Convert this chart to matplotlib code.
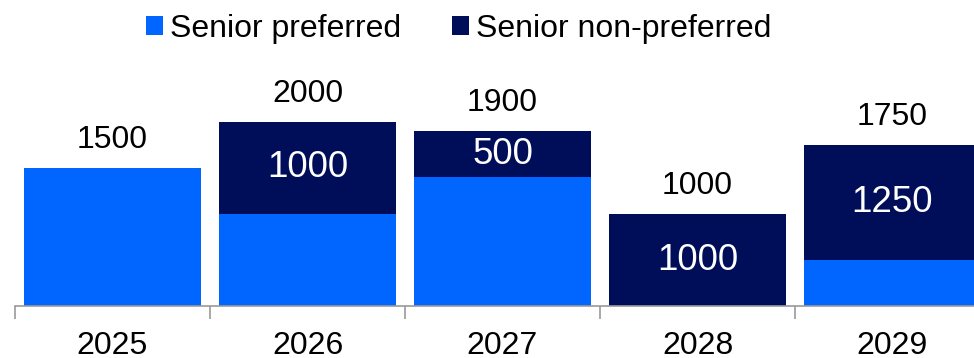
import matplotlib
matplotlib.use("Agg")
import matplotlib.pyplot as plt
import numpy as np

# datos
years = ['2025', '2026', '2027', '2028', '2029']
senior_pref = [1500, 1000, 1400, 0, 500]
senior_nonpref = [0, 1000, 500, 1000, 1250]
totals = [1500, 2000, 1900, 1000, 1750]

BLUE = '#0066FF'
NAVY = '#000E5A'

plt.rcParams['font.family'] = ['Liberation Sans', 'DejaVu Sans']

fig = plt.figure(figsize=(9.74, 3.58), dpi=100)
# el eje se sale del borde derecho, como en la referencia
ax = fig.add_axes([15/974, 52/358, 975/974, 230/358])

x = np.arange(len(years))
w = 0.91
ax.bar(x, senior_pref, w, color=BLUE, label='Senior preferred')
ax.bar(x, senior_nonpref, w, bottom=senior_pref, color=NAVY, label='Senior non-preferred')

ax.set_xlim(-0.5, len(years) - 0.5)
ax.set_ylim(0, 2500)

# etiquetas blancas dentro del tramo oscuro
for i in range(len(years)):
    if senior_nonpref[i] > 0:
        ax.text(x[i], senior_pref[i] + senior_nonpref[i] / 2, str(senior_nonpref[i]),
                ha='center', va='center', color='white', fontsize=26.5)
    ax.annotate(str(totals[i]), (x[i], totals[i]), xytext=(0, 20.5),
                textcoords='offset points', ha='center', va='center',
                fontsize=23, color='black')

for s in ['top', 'right', 'left']:
    ax.spines[s].set_visible(False)
ax.spines['bottom'].set_color('#999999')
ax.spines['bottom'].set_linewidth(1.2)
ax.set_yticks([])

# ticks entre categorias, etiquetas centradas
ax.set_xticks(np.arange(-0.5, len(years), 1.0))
ax.set_xticklabels([])
ax.tick_params(axis='x', which='major', length=9, color='#999999', width=1.2)
ax.set_xticks(x, minor=True)
ax.set_xticklabels(years, minor=True, fontsize=23)
ax.tick_params(axis='x', which='minor', length=0, pad=18)

fig.legend(loc='center', bbox_to_anchor=(0.471, 0.92), ncol=2, frameon=False,
           fontsize=23, handlelength=0.53, handleheight=0.53, handletextpad=0.22,
           columnspacing=1.6, borderpad=0)

fig.savefig('out.png', dpi=100)
